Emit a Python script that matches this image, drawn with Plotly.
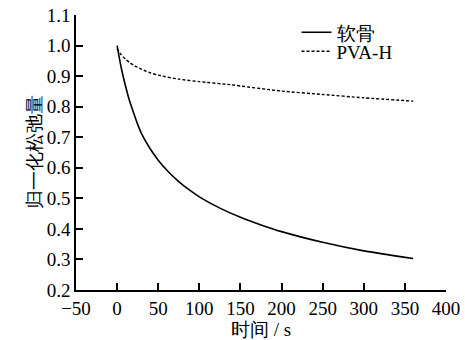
import plotly.graph_objects as go

# Data
t_cart = [0, 3, 6, 10, 15, 20, 25, 30, 40, 50, 62, 75, 87, 100, 125, 150, 175, 200, 250, 300, 360]
v_cart = [1.0, 0.955, 0.915, 0.87, 0.82, 0.78, 0.742, 0.71, 0.663, 0.625, 0.588, 0.555, 0.529, 0.505, 0.468, 0.438, 0.413, 0.391, 0.356, 0.328, 0.303]

t_pva = [0, 5, 10, 15, 20, 30, 40, 50, 75, 100, 137, 200, 250, 300, 360]
v_pva = [0.99, 0.97, 0.956, 0.945, 0.936, 0.922, 0.911, 0.903, 0.89, 0.882, 0.872, 0.851, 0.84, 0.829, 0.818]

x_ticks = [-50, 0, 50, 100, 150, 200, 250, 300, 350, 400]
y_ticks = [0.2, 0.3, 0.4, 0.5, 0.6, 0.7, 0.8, 0.9, 1.0, 1.1]

series_names = ["软骨", "PVA-H"]

FONT = "Times New Roman, Times, Liberation Serif, DejaVu Serif, serif"
TF = dict(family=FONT, size=19, color="black")

fig = go.Figure()
fig.add_trace(go.Scatter(x=t_cart, y=v_cart, mode="lines", name=series_names[0], legend="legend",
                         line=dict(color="black", width=1.6, shape="spline", smoothing=0.6)))
fig.add_trace(go.Scatter(x=t_pva, y=v_pva, mode="lines", name=series_names[1], legend="legend2",
                         line=dict(color="black", width=1.4, dash="3px,2px", shape="spline", smoothing=0.6)))

axis_common = dict(showline=True, linecolor="black", linewidth=1.5, ticks="inside",
                   ticklen=7, tickwidth=1.5, tickcolor="black", showgrid=False,
                   zeroline=False, mirror=False, automargin=False, tickmode="array",
                   ticklabeloverflow="allow", tickfont=TF)

fig.update_xaxes(range=[-50, 400], tickvals=x_ticks,
                 title=dict(text="时间 / s", font=TF, standoff=2),
                 **axis_common)
fig.update_yaxes(range=[0.2, 1.1], tickvals=y_ticks, tickformat=".1f",
                 title=dict(text="归一化松弛量", font=TF, standoff=0),
                 **axis_common)

legend_common = dict(xanchor="left", yanchor="top", bgcolor="rgba(0,0,0,0)",
                     borderwidth=0, font=TF, itemwidth=30)

fig.update_layout(
    width=465, height=340,
    margin=dict(l=76, r=19, t=15, b=50),
    plot_bgcolor="white", paper_bgcolor="white",
    font=TF,
    legend=dict(x=0.596, y=1.006, **legend_common),
    legend2=dict(x=0.596, y=0.937, **legend_common),
    showlegend=True,
)

fig.write_html("out.html", config={"displayModeBar": False},
               post_script="document.body.style.margin='0';")
